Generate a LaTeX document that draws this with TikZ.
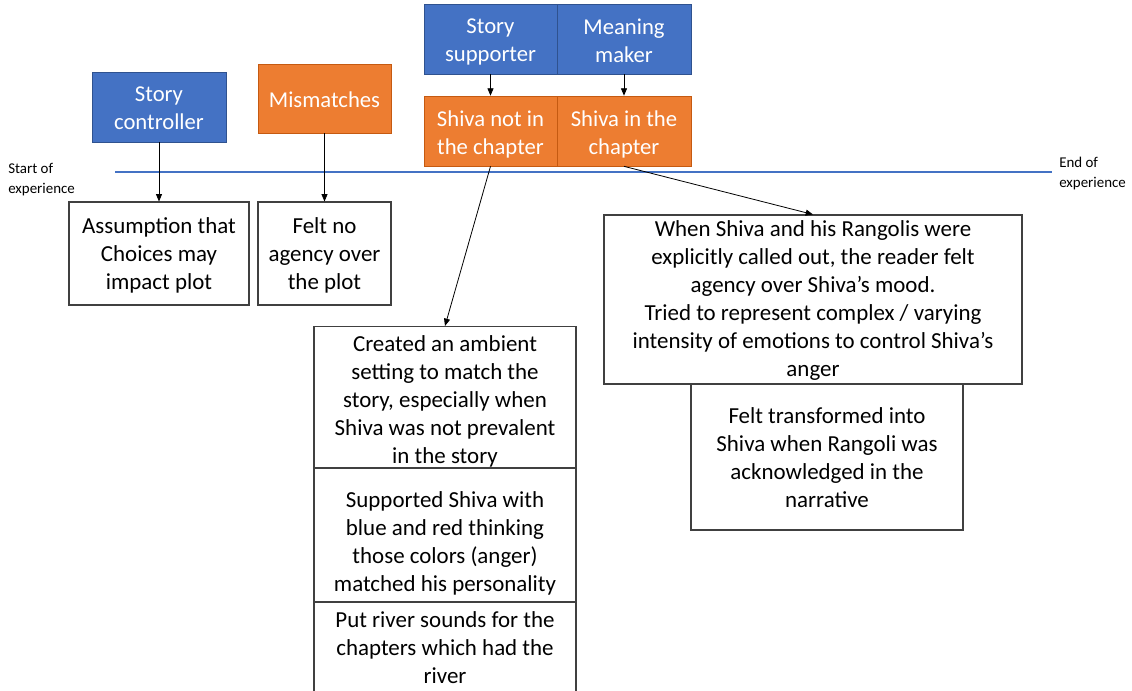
\documentclass[tikz,border=0pt]{standalone}
\usepackage{fontspec}
\setmainfont{Carlito}
\usetikzlibrary{arrows.meta}
\definecolor{obl}{HTML}{4472C4}
\definecolor{oblb}{HTML}{2F528F}
\definecolor{oor}{HTML}{ED7D31}
\definecolor{oorb}{HTML}{C55A11}
\definecolor{dgr}{HTML}{404040}
\tikzset{
  hdr/.style={rectangle, inner sep=0pt, line width=0.5pt},
  bluebox/.style={hdr, fill=obl, draw=oblb},
  orangebox/.style={hdr, fill=oor, draw=oorb},
  htext/.style={align=center, text=white, font=\fontsize{17}{21}\selectfont, inner sep=0pt},
  whitebox/.style={rectangle, draw=dgr, fill=white, line width=0.8pt, inner sep=0pt},
  wtext/.style={align=center, text=black, font=\fontsize{17.2}{21}\selectfont, inner sep=0pt},
  conn/.style={draw=black, line width=0.6pt, -{Triangle[length=5.5pt,width=4.5pt]}},
  small/.style={align=left, anchor=west, font=\fontsize{11.2}{15}\selectfont, inner sep=0pt, text=black}
}
\begin{document}
\begin{tikzpicture}[x=0.75pt,y=-0.75pt]
\useasboundingbox (0,0) rectangle (1132,690);
\clip (0,0) rectangle (1132,690);
% timeline
\draw[obl, line width=0.8pt] (115,172) coordinate (tl0) -- (1052,172) coordinate (tl1);
\node[small] (start) at (8,180) {Start of\\experience};
\node[small] (end) at (1059,174) {End of\\experience};
% headers
\node[bluebox, minimum width={134*0.75pt}, minimum height={70*0.75pt}] (ctrl) at (159,107) {};
\node[htext] (ctrlT) at (159,108) {Story\\controller};
\node[orangebox, minimum width={133*0.75pt}, minimum height={69*0.75pt}] (mism) at (324.5,98.5) {};
\node[htext] (mismT) at (324.5,99.5) {Mismatches};
\node[bluebox, minimum width={133*0.75pt}, minimum height={70*0.75pt}] (supp) at (490.5,39) {};
\node[htext] (suppT) at (490.5,42) {Story\\supporter};
\node[bluebox, minimum width={134*0.75pt}, minimum height={70*0.75pt}] (mean) at (624,39) {};
\node[htext] (meanT) at (624,41) {Meaning\\maker};
\node[orangebox, minimum width={133*0.75pt}, minimum height={70*0.75pt}] (notin) at (490.5,131) {};
\node[htext] (notinT) at (490.5,134) {Shiva not in\\the chapter};
\node[orangebox, minimum width={134*0.75pt}, minimum height={70*0.75pt}] (inch) at (624,131) {};
\node[htext] (inchT) at (624,134) {Shiva in the\\chapter};
% white boxes
\node[whitebox, minimum width={180*0.75pt}, minimum height={103*0.75pt}] (assump) at (159,253.5) {};
\node[wtext] (assumpT) at (159,255.5) {Assumption that\\Choices may\\impact plot};
\node[whitebox, minimum width={133*0.75pt}, minimum height={103*0.75pt}] (noag) at (324.5,253.5) {};
\node[wtext] (noagT) at (324.5,255.5) {Felt no\\agency over\\the plot};
\node[whitebox, minimum width={262*0.75pt}, minimum height={142*0.75pt}] (ambient) at (445,397.5) {};
\node[wtext] (ambientT) at (445,401.5) {Created an ambient\\setting to match the\\story, especially when\\Shiva was not prevalent\\in the story};
\node[whitebox, minimum width={262*0.75pt}, minimum height={134*0.75pt}] (colors) at (445,535) {};
\node[wtext] (colorsT) at (445,543) {Supported Shiva with\\blue and red thinking\\those colors (anger)\\matched his personality};
\node[whitebox, minimum width={262*0.75pt}, minimum height={120*0.75pt}, anchor=north] (river) at (445,602) {};
\node[wtext] (riverT) at (445,648) {Put river sounds for the\\chapters which had the\\river};
\node[whitebox, minimum width={418*0.75pt}, minimum height={169*0.75pt}] (when) at (813,299.5) {};
\node[wtext] (whenT) at (813,301) {When Shiva and his Rangolis were\\explicitly called out, the reader felt\\agency over Shiva’s mood.\\Tried to represent complex / varying\\intensity of emotions to control Shiva’s\\anger};
\node[whitebox, minimum width={272*0.75pt}, minimum height={146*0.75pt}] (transf) at (827,457) {};
\node[wtext] (transfT) at (827,458) {Felt transformed into\\Shiva when Rangoli was\\acknowledged in the\\narrative};
% connectors
\draw[conn] (ctrl.south) -- (assump.north);
\draw[conn] (mism.south) -- (noag.north);
\draw[conn] (supp.south) -- (notin.north);
\draw[conn] (mean.south) -- (inch.north);
\draw[conn] (notin.south) -- (ambient.north);
\draw[conn] (inch.south) -- (when.north);
\end{tikzpicture}
\end{document}
